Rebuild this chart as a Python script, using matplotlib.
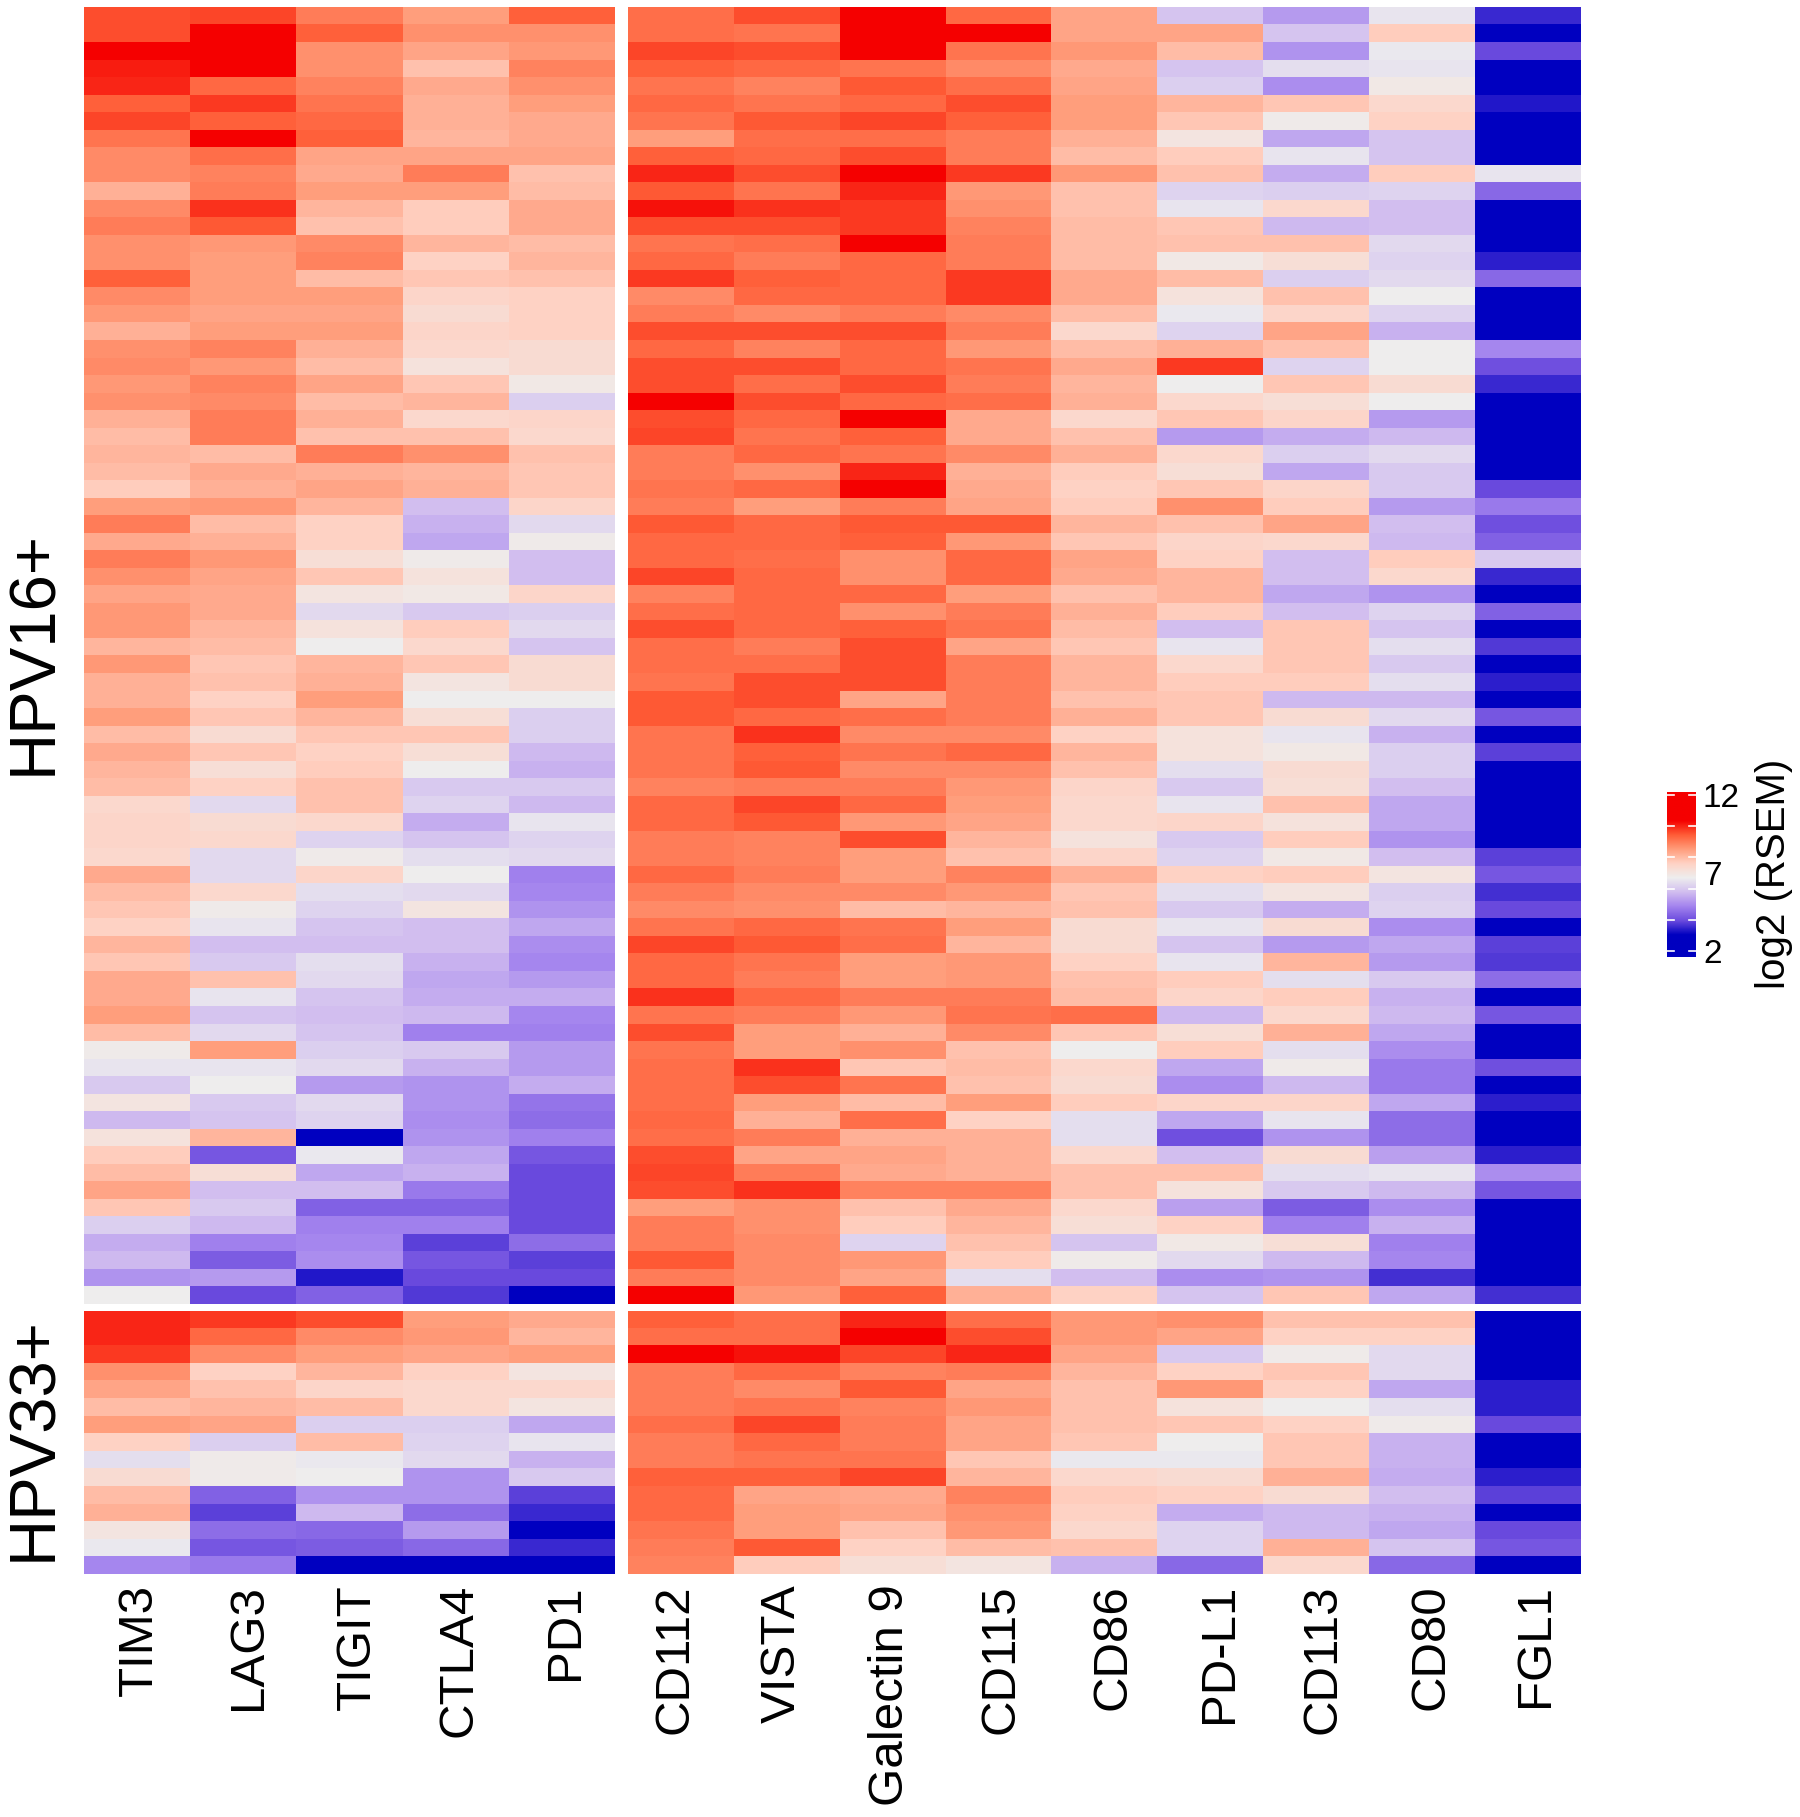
import numpy as np
import matplotlib
matplotlib.use('Agg')
import matplotlib.pyplot as plt
from matplotlib.colors import LinearSegmentedColormap, Normalize

plt.rcParams['font.family'] = ['Liberation Sans', 'DejaVu Sans']

# gene names, left and right block
genes_left = ['TIM3', 'LAG3', 'TIGIT', 'CTLA4', 'PD1']
genes_right = ['CD112', 'VISTA', 'Galectin 9', 'CD115', 'CD86', 'PD-L1', 'CD113', 'CD80', 'FGL1']

# HPV16+ samples, log2 values
tim3_16 = [9.6,9.6,10.4,10.1,10.0,9.4,9.7,9.1,8.8,8.8,8.2,8.8,9.0,8.7,8.7,9.4,8.8,8.6,8.2,8.7,
           8.8,8.6,8.7,8.2,8.0,8.1,8.0,7.7,8.5,9.0,8.3,9.0,8.7,8.4,8.6,8.6,8.1,8.6,8.2,8.2,
           8.5,8.0,8.3,8.1,8.0,7.4,7.5,7.5,7.4,8.3,8.0,7.8,7.6,8.1,7.8,8.3,8.3,8.5,8.0,6.8,
           6.5,6.0,7.0,5.7,7.1,7.7,8.0,8.4,7.8,6.1,5.5,5.7,5.1,6.7]
lag3_16 = [9.7,10.4,10.4,10.4,9.3,9.8,9.4,10.4,9.2,8.9,9.0,9.9,9.5,8.6,8.5,8.5,8.5,8.4,8.5,8.9,
           8.6,8.9,8.8,9.0,9.0,8.0,8.3,8.2,8.6,8.0,8.2,8.6,8.4,8.3,8.3,8.1,8.0,7.8,7.9,7.6,
           7.8,7.3,7.8,7.2,7.6,6.3,7.3,7.4,6.3,6.3,7.4,6.8,6.5,5.8,6.0,7.9,6.5,5.9,6.3,8.5,
           6.5,6.7,6.0,5.9,8.1,4.1,7.2,5.8,6.0,5.7,4.8,4.2,5.2,3.9]
tigit_16 = [9.0,9.4,8.7,8.7,8.9,9.1,9.3,9.4,8.4,8.3,8.5,8.1,7.9,8.8,8.9,8.0,8.5,8.4,8.5,8.2,
            8.0,8.4,8.0,8.2,7.9,9.0,8.2,8.4,8.1,7.6,7.6,7.2,7.8,7.0,6.3,7.1,6.7,8.1,8.2,8.5,
            8.1,7.8,7.6,7.7,7.9,7.9,7.4,6.2,6.8,7.5,6.4,6.2,5.9,5.8,6.4,6.3,5.9,5.8,5.9,6.1,
            6.3,5.2,6.3,6.2,3.0,6.6,5.4,5.8,4.3,4.8,4.9,5.0,3.3,4.3]
ctla4_16 = [8.5,8.7,8.4,7.9,8.3,8.2,8.2,8.1,8.4,9.0,8.5,7.7,7.7,8.1,7.6,7.8,7.5,7.3,7.5,7.4,
            7.1,7.8,8.1,7.4,7.9,8.7,8.1,8.2,5.8,5.6,5.4,6.8,7.1,6.9,6.0,7.7,7.4,7.8,7.0,6.7,
            7.2,7.8,7.2,6.7,6.0,6.2,5.5,5.9,6.4,6.7,6.3,7.0,5.8,5.8,5.6,5.4,5.5,5.7,4.8,6.0,
            5.6,5.1,5.1,5.0,5.1,5.4,5.6,4.7,4.3,4.8,3.8,4.1,3.9,3.7]
pd1_16 = [9.4,8.7,8.6,8.9,8.7,8.5,8.3,8.3,8.4,7.9,8.0,8.3,8.3,8.0,8.1,7.9,7.6,7.6,7.6,7.3,
          7.3,6.9,6.1,7.5,7.4,7.9,7.8,7.8,7.5,6.3,6.8,5.8,5.8,7.5,6.1,6.3,5.9,7.3,7.3,6.7,
          6.1,6.1,5.7,5.6,6.0,5.7,6.5,6.2,6.3,4.8,4.9,5.1,5.4,5.0,4.9,5.2,5.5,4.9,4.8,5.2,
          5.2,5.5,4.6,4.5,4.8,4.1,3.9,3.9,3.9,3.9,4.5,3.8,3.9,3.0]
cd112_16 = [9.2,9.2,9.7,9.4,9.1,9.3,9.1,8.5,9.4,10.0,9.5,10.2,9.6,9.1,9.3,9.8,8.8,9.0,9.6,9.3,
            9.6,9.6,10.4,9.6,9.7,9.0,9.0,9.1,9.0,9.5,9.3,9.3,9.7,8.9,9.2,9.6,9.2,9.2,9.1,9.5,
            9.5,9.1,9.1,9.1,8.9,9.3,9.3,9.0,9.0,9.3,9.0,8.8,9.1,9.7,9.3,9.3,9.9,9.1,9.6,9.1,
            9.2,9.2,9.2,9.3,9.2,9.6,9.7,9.6,8.5,9.0,9.0,9.5,9.0,10.4]
vista_16 = [9.6,9.1,9.6,9.3,8.9,9.1,9.5,9.2,9.3,9.6,9.1,9.9,9.6,9.2,9.0,9.4,9.3,8.8,9.6,8.9,
            9.6,9.2,9.6,9.3,9.1,9.3,8.7,9.3,8.5,9.3,9.3,9.2,9.3,9.3,9.3,9.3,9.0,9.2,9.6,9.6,
            9.3,9.9,9.4,9.5,9.0,9.7,9.5,8.9,8.9,9.0,8.8,8.7,9.3,9.5,9.1,9.0,9.3,9.0,8.5,8.5,
            9.9,9.6,8.5,8.2,9.0,8.4,9.0,9.9,8.7,8.7,8.8,8.8,8.8,8.6]
gal9_16 = [10.4,10.4,10.4,9.1,9.5,9.3,9.7,9.2,9.6,10.4,10.0,9.8,9.8,10.4,9.3,9.3,9.3,9.0,9.6,9.3,
           9.3,9.6,9.3,10.4,9.4,9.1,10.0,10.4,9.0,9.5,9.4,8.7,8.7,9.3,8.7,9.4,9.6,9.6,9.6,8.4,
           9.2,8.8,9.1,8.8,9.0,9.3,8.6,9.6,8.5,8.5,8.8,8.0,9.1,9.2,8.5,8.5,9.0,8.6,8.2,8.7,
           7.8,9.1,8.0,9.2,8.2,8.4,8.3,8.9,7.9,7.7,6.2,8.6,8.4,9.4]
cd115_16 = [9.3,10.4,9.1,8.8,9.2,9.6,9.4,9.0,9.0,9.8,8.6,8.7,8.9,9.0,9.0,9.8,9.8,8.8,9.0,8.6,
            9.1,9.0,9.2,8.3,8.3,8.8,8.2,8.3,8.4,9.5,8.6,9.3,9.3,8.5,9.0,9.1,8.4,9.0,9.0,9.0,
            9.0,8.8,9.3,8.8,8.6,8.5,8.4,8.1,7.9,8.9,8.6,8.1,8.5,8.1,8.6,8.6,9.0,9.1,8.8,7.9,
            8.0,7.9,8.5,7.6,8.2,8.2,8.2,8.9,8.3,8.1,7.9,7.7,6.4,8.2]
cd86_16 = [8.4,8.4,8.6,8.3,8.4,8.5,8.5,8.2,8.0,8.6,7.9,7.9,8.0,8.0,8.0,8.3,8.3,8.0,7.4,8.0,
           8.3,8.1,8.2,7.4,7.9,8.2,7.7,7.6,7.7,8.1,7.8,8.4,8.3,7.9,8.2,8.0,7.8,8.1,8.1,7.9,
           8.2,7.6,8.1,7.9,7.5,7.4,7.4,7.1,7.5,8.2,7.8,7.9,7.3,7.3,7.6,7.9,8.0,9.2,7.8,6.7,
           7.4,7.3,7.7,6.4,6.4,7.4,7.9,7.9,7.4,7.2,5.9,6.8,5.8,7.6]
pdl1_16 = [5.9,8.4,8.0,5.9,6.1,8.1,7.8,7.0,7.7,7.9,6.2,6.5,7.8,7.9,6.9,8.0,7.1,6.6,6.2,8.2,
           9.8,6.7,7.4,7.8,5.2,7.4,7.2,7.8,8.7,7.9,7.5,7.6,8.1,8.1,7.7,5.8,6.5,7.4,7.7,7.8,
           7.8,7.1,7.1,6.4,6.0,6.5,7.5,6.0,6.2,7.6,6.4,6.0,6.5,5.9,6.5,7.7,7.5,5.7,7.2,7.7,
           5.4,5.0,7.5,5.4,4.0,5.8,7.9,7.1,5.3,7.6,6.9,6.3,5.0,5.9]
cd113_16 = [5.2,5.9,5.1,6.4,5.0,7.8,6.8,5.4,6.5,5.5,6.1,7.4,5.7,7.9,7.2,6.1,7.9,7.5,8.4,7.9,
            6.2,7.8,7.2,7.5,5.5,6.1,5.4,7.5,7.7,8.4,7.4,5.8,5.8,5.4,5.8,7.8,7.8,7.8,7.7,5.7,
            7.3,6.5,6.9,7.3,7.2,7.9,7.1,7.7,6.9,7.7,7.0,5.5,7.3,5.2,8.1,6.4,7.7,7.4,8.2,6.4,
            6.8,5.7,7.5,6.5,5.1,7.3,6.4,6.0,4.2,4.8,7.2,5.7,5.1,7.8]
cd80_16 = [6.5,7.7,6.6,6.5,6.9,7.4,7.6,5.9,5.9,7.7,6.2,5.8,5.8,6.3,6.2,6.3,6.7,6.2,5.6,6.7,
           6.7,7.3,6.7,5.2,5.7,6.3,6.0,6.0,5.2,5.8,5.7,7.7,7.4,5.1,6.2,5.9,6.4,6.0,6.4,5.7,
           6.3,5.6,6.1,6.1,5.8,5.4,5.4,5.1,5.8,7.0,6.1,6.2,5.0,5.4,5.2,6.0,5.6,5.7,5.4,5.0,
           4.7,4.7,5.4,4.5,4.5,5.3,6.5,5.7,5.0,5.6,4.8,4.9,3.6,5.4]
fgl1_16 = [3.5,3.0,3.9,3.0,3.0,3.3,3.0,3.0,3.0,6.5,4.4,3.0,3.0,3.0,3.4,4.4,3.0,3.0,3.0,4.9,
           4.0,3.5,3.0,3.0,3.0,3.0,3.0,3.9,4.7,4.0,4.3,6.0,3.5,3.0,4.3,3.0,3.7,3.0,3.4,3.0,
           4.1,3.0,3.8,3.0,3.0,3.0,3.0,3.0,3.8,4.1,3.6,3.9,3.0,3.8,3.7,4.5,3.0,4.1,3.0,3.0,
           4.0,3.0,3.4,3.0,3.0,3.4,5.0,4.1,3.0,3.0,3.0,3.0,3.0,3.6]

# HPV33+ samples
tim3_33 = [10.0,10.0,9.8,8.7,8.4,8.0,8.5,7.6,6.4,7.3,8.0,8.2,7.0,6.6,4.9]
lag3_33 = [9.8,9.3,8.8,7.6,7.9,8.1,8.4,6.1,6.8,6.8,4.3,3.8,4.5,4.1,4.7]
tigit_33 = [9.6,8.8,8.5,8.1,7.5,8.0,6.1,8.0,6.6,6.7,5.1,5.7,4.4,4.2,3.0]
ctla4_33 = [8.5,8.6,8.4,7.6,7.4,7.4,6.1,6.2,6.3,5.1,5.1,4.5,5.2,4.4,3.0]
pd1_33 = [8.3,8.1,8.5,7.0,7.4,7.0,5.4,6.5,5.6,6.0,3.8,3.5,3.0,3.5,3.0]
cd112_33 = [9.4,9.2,10.4,9.0,9.0,9.0,9.2,9.0,9.0,9.4,9.3,9.3,9.1,9.0,8.9]
vista_33 = [9.2,9.2,10.2,9.3,8.8,9.1,9.7,9.3,9.1,9.4,8.4,8.5,8.5,9.5,7.7]
gal9_33 = [10.0,10.4,9.7,8.9,9.5,8.9,9.0,9.0,9.1,9.7,8.3,8.4,7.9,7.6,7.2]
cd115_33 = [9.2,9.6,10.0,9.0,8.4,8.6,8.4,8.4,7.8,8.1,8.9,8.7,8.6,8.0,7.0]
cd86_33 = [8.6,8.6,8.4,8.1,7.9,7.9,7.9,7.8,6.6,7.4,7.7,7.6,7.4,7.9,5.6]
pdl1_33 = [8.7,8.4,6.0,7.6,8.6,7.1,7.8,6.7,6.6,7.3,7.6,5.5,6.2,6.2,4.4]
cd113_33 = [7.9,7.6,6.8,7.8,7.6,6.7,7.6,7.8,7.8,8.2,7.3,5.7,5.7,8.2,7.4]
cd80_33 = [7.9,7.6,6.3,6.3,5.4,6.4,6.8,5.6,5.6,5.5,5.8,5.6,5.4,5.9,4.4]
fgl1_33 = [3.0,3.0,3.0,3.0,3.4,3.4,3.9,3.0,3.0,3.4,3.8,3.0,3.9,4.1,3.0]

# colour scale, saturates at both ends
cmap = LinearSegmentedColormap.from_list('rsem', [
    (0.0, '#0000c0'), (0.125, '#6c4cde'), (0.25, '#a484ee'), (0.375, '#d2bef0'), (0.5, '#eeeeee'),
    (0.625, '#ffd2c4'), (0.75, '#ff9c7a'), (0.875, '#ff5c36'), (1.0, '#f50000')])
norm = Normalize(vmin=3.0, vmax=10.4)

W, H = 1800, 1817
fig = plt.figure(figsize=(W / 100, H / 100), dpi=100)


def px_axes(x0, y0, x1, y1):
    # axes from pixel corners, y measured from the top
    return fig.add_axes([x0 / W, 1 - y1 / H, (x1 - x0) / W, (y1 - y0) / H])


def draw_block(box, columns, ylabel=None):
    ax = px_axes(*box)
    ax.imshow(np.array(columns).T, cmap=cmap, norm=norm, aspect='auto', interpolation='nearest')
    ax.set_xticks([])
    ax.set_yticks([])
    if ylabel:
        # nudged up a little from the middle of the block
        ax.set_ylabel(ylabel, fontsize=47, labelpad=14, y=0.5 + 3.5 / (box[3] - box[1]))
    for s in ax.spines.values():
        s.set_visible(False)
    return ax


draw_block((83.6, 7.3, 614, 1304),
           [tim3_16, lag3_16, tigit_16, ctla4_16, pd1_16], ylabel='HPV16+')
draw_block((627.5, 7.3, 1580.5, 1304),
           [cd112_16, vista_16, gal9_16, cd115_16, cd86_16, pdl1_16, cd113_16, cd80_16, fgl1_16])
draw_block((83.6, 1311, 614, 1574),
           [tim3_33, lag3_33, tigit_33, ctla4_33, pd1_33], ylabel='HPV33+')
draw_block((627.5, 1311, 1580.5, 1574),
           [cd112_33, vista_33, gal9_33, cd115_33, cd86_33, pdl1_33, cd113_33, cd80_33, fgl1_33])

# gene labels were placed by hand in the original, not on the column centres
label_x = [138, 247, 356, 457, 564, 674, 781, 889, 999, 1112, 1218, 1322, 1429, 1534]
for name, x in zip(genes_left + genes_right, label_x):
    fig.text((x + 14) / W, 1 - 1584 / H, name, rotation=90, fontsize=35.5,
             ha='right', va='baseline', rotation_mode='anchor')

# legend bar
cax = px_axes(1667, 792, 1696, 957)
grad = np.linspace(1.6, 12.2, 256).reshape(-1, 1)
cax.imshow(grad, cmap=cmap, norm=norm, aspect='auto', origin='lower', extent=[0, 1, 1.6, 12.2])
cax.set_xlim(0, 1)
cax.set_ylim(1.6, 12.2)
cax.set_xticks([])
cax.set_yticks([2, 7, 12])
cax.set_yticklabels(['2', '7', '12'], fontsize=24)
cax.tick_params(axis='y', length=0, pad=5)
cax.yaxis.tick_right()
for s in cax.spines.values():
    s.set_visible(False)
for v in [2, 4, 6, 8, 10, 12]:
    cax.plot([0, 0.24], [v, v], color='white', lw=1.2)
    cax.plot([0.76, 1], [v, v], color='white', lw=1.2)
fig.text(1774 / W, 1 - 874 / H, 'log2 (RSEM)', rotation=90, fontsize=29, ha='center', va='center')

fig.savefig('out.png', dpi=100, facecolor='white')
